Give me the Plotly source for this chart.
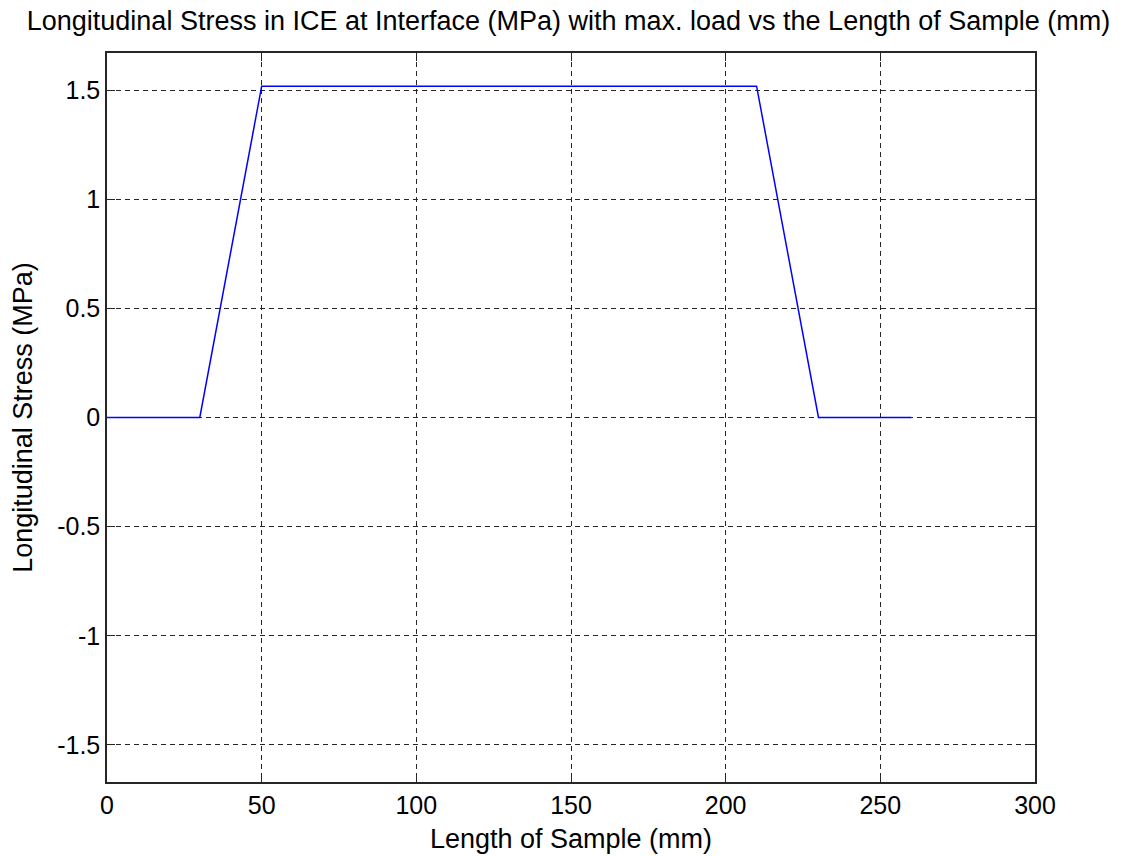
import plotly.graph_objects as go

x_mm = [0, 30, 50, 210, 230, 260]
stress_mpa = [0, 0, 1.518, 1.518, 0, 0]

x_ticks = [0, 50, 100, 150, 200, 250, 300]
y_ticks = [-1.5, -1, -0.5, 0, 0.5, 1, 1.5]
y_tick_text = ["-1.5", "-1", "-0.5", "0", "0.5", "1", "1.5"]

font = "Liberation Sans, Arial, sans-serif"
fsize = 25
tsize = 27

fig = go.Figure()
fig.add_trace(go.Scatter(x=x_mm, y=stress_mpa, mode="lines",
                         line=dict(color="#0000ff", width=1.5), showlegend=False))

axis_common = dict(
    showline=True, linecolor="#262626", linewidth=1.5, mirror="ticks",
    ticks="inside", ticklen=8, tickcolor="#262626", tickwidth=1,
    showgrid=True, gridcolor="#262626", gridwidth=1, griddash="5px,4px",
    zeroline=False, tickfont=dict(family=font, size=fsize, color="#000000"),
    automargin=False,
)

fig.update_xaxes(range=[0, 300], tickvals=x_ticks, **axis_common,
                 title=dict(text="Length of Sample (mm)", font=dict(family=font, size=tsize, color="#000"), standoff=11))
fig.update_yaxes(range=[-1.67, 1.67], tickvals=y_ticks, ticktext=y_tick_text, **axis_common,
                 title=dict(text="Longitudinal Stress (MPa)", font=dict(family=font, size=tsize, color="#000"), standoff=17))

fig.update_layout(
    width=1137, height=856, autosize=False,
    margin=dict(l=107, r=102, t=53, b=74),
    paper_bgcolor="white", plot_bgcolor="white",
    title=dict(text="Longitudinal Stress in ICE at Interface (MPa) with max. load vs the Length of Sample (mm)",
               font=dict(family=font, size=tsize, color="#000"), x=0.5, xanchor="center", y=0.976, yanchor="middle"),
)

fig.write_html("out.html")
